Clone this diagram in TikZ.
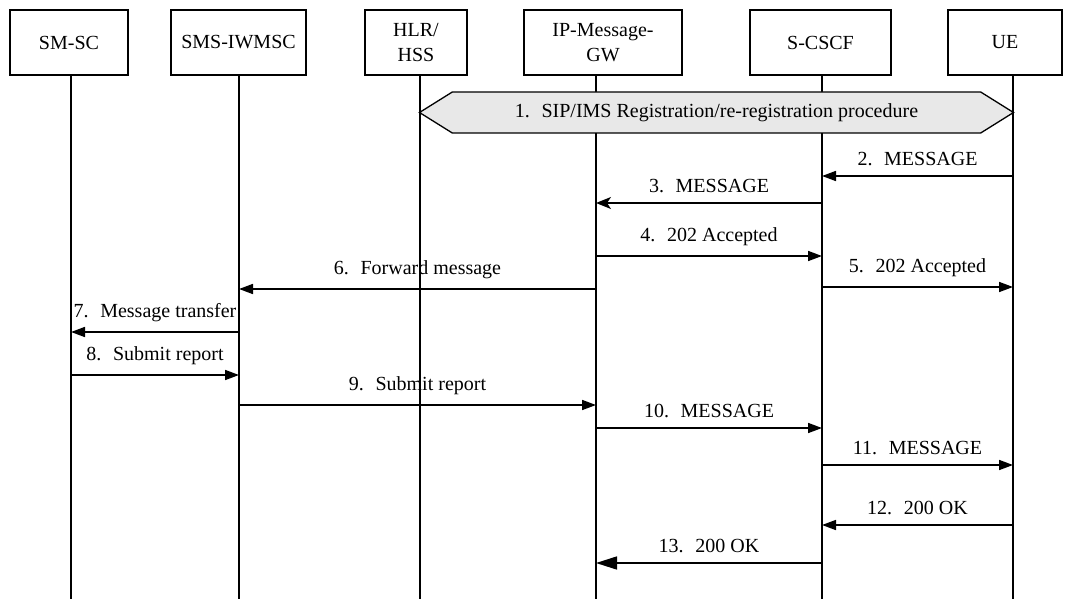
\documentclass[tikz,border=0pt]{standalone}
\usepackage{fontspec}
\setmainfont{Liberation Serif}
\usetikzlibrary{arrows.meta,shapes.symbols}

\begin{document}
\begin{tikzpicture}[
    x=1pt, y=-1pt,
    entity/.style={rectangle, draw, line width=1.3pt, minimum height=65pt, align=center, inner sep=1pt, font=\fontsize{20}{25}\selectfont},
    life/.style={line width=1.5pt},
    msg/.style={line width=1.6pt},
    tri/.style={-{Triangle[length=14pt,width=10pt]}},
    bigtri/.style={-{Triangle[length=21pt,width=13pt]}},
    notch/.style={-{Stealth[length=15pt,width=12pt,inset=4pt]}},
    lbl/.style={above=6pt, font=\fontsize{20}{20}\selectfont},
    regbox/.style={signal, signal to=east and west, signal pointer angle=64, draw, line width=1.3pt, fill=gray!18, minimum width=594pt, minimum height=41pt, inner sep=0pt, font=\fontsize{20}{20}\selectfont}
  ]
    \useasboundingbox (0,0) rectangle (1065,599);

    % Entities
    \node[entity, minimum width=118pt] (smsc) at (69,42.5) {SM-SC};
    \node[entity, minimum width=135pt] (iwmsc) at (238.5,42.5) {SMS-IWMSC};
    \node[entity, minimum width=102pt] (hlr) at (416,42.5) {HLR/\\HSS};
    \node[entity, minimum width=158pt] (ipgw) at (603,42.5) {IP-Message-\\GW};
    \node[entity, minimum width=141pt] (scscf) at (820.5,42.5) {S-CSCF};
    \node[entity, minimum width=114pt] (ue) at (1005,42.5) {UE};

    % Lifelines
    \coordinate (smsc-end) at (71,599);
    \coordinate (iwmsc-end) at (239,599);
    \coordinate (hlr-end) at (420,599);
    \coordinate (ipgw-end) at (596,599);
    \coordinate (scscf-end) at (822,599);
    \coordinate (ue-end) at (1013,599);
    \foreach \e in {smsc,iwmsc,hlr,ipgw,scscf,ue}
      \draw[life] (\e.south -| \e-end) -- (\e-end);

    % Registration
    \node[regbox] (reg) at (716.5,112.5) {1.~ SIP/IMS Registration/re-registration procedure};

    % Messages
    \foreach \src/\dst/\y/\tip/\txt in {
        ue/scscf/176/tri/{2.~ MESSAGE},
        scscf/ipgw/203/notch/{3.~ MESSAGE},
        ipgw/scscf/256/tri/{4.~ 202 Accepted},
        scscf/ue/287/tri/{5.~ 202 Accepted},
        ipgw/iwmsc/289/tri/{6.~ Forward message},
        iwmsc/smsc/332/tri/{7.~ Message transfer},
        smsc/iwmsc/375/tri/{8.~ Submit report},
        iwmsc/ipgw/405/tri/{9.~ Submit report},
        ipgw/scscf/428/tri/{10.~ MESSAGE},
        scscf/ue/465/tri/{11.~ MESSAGE},
        ue/scscf/525/tri/{12.~ 200 OK},
        scscf/ipgw/563/bigtri/{13.~ 200 OK}}
      \draw[msg, \tip] (\src-end |- 0,\y) -- node[lbl] {\txt} (\dst-end |- 0,\y);
\end{tikzpicture}
\end{document}
